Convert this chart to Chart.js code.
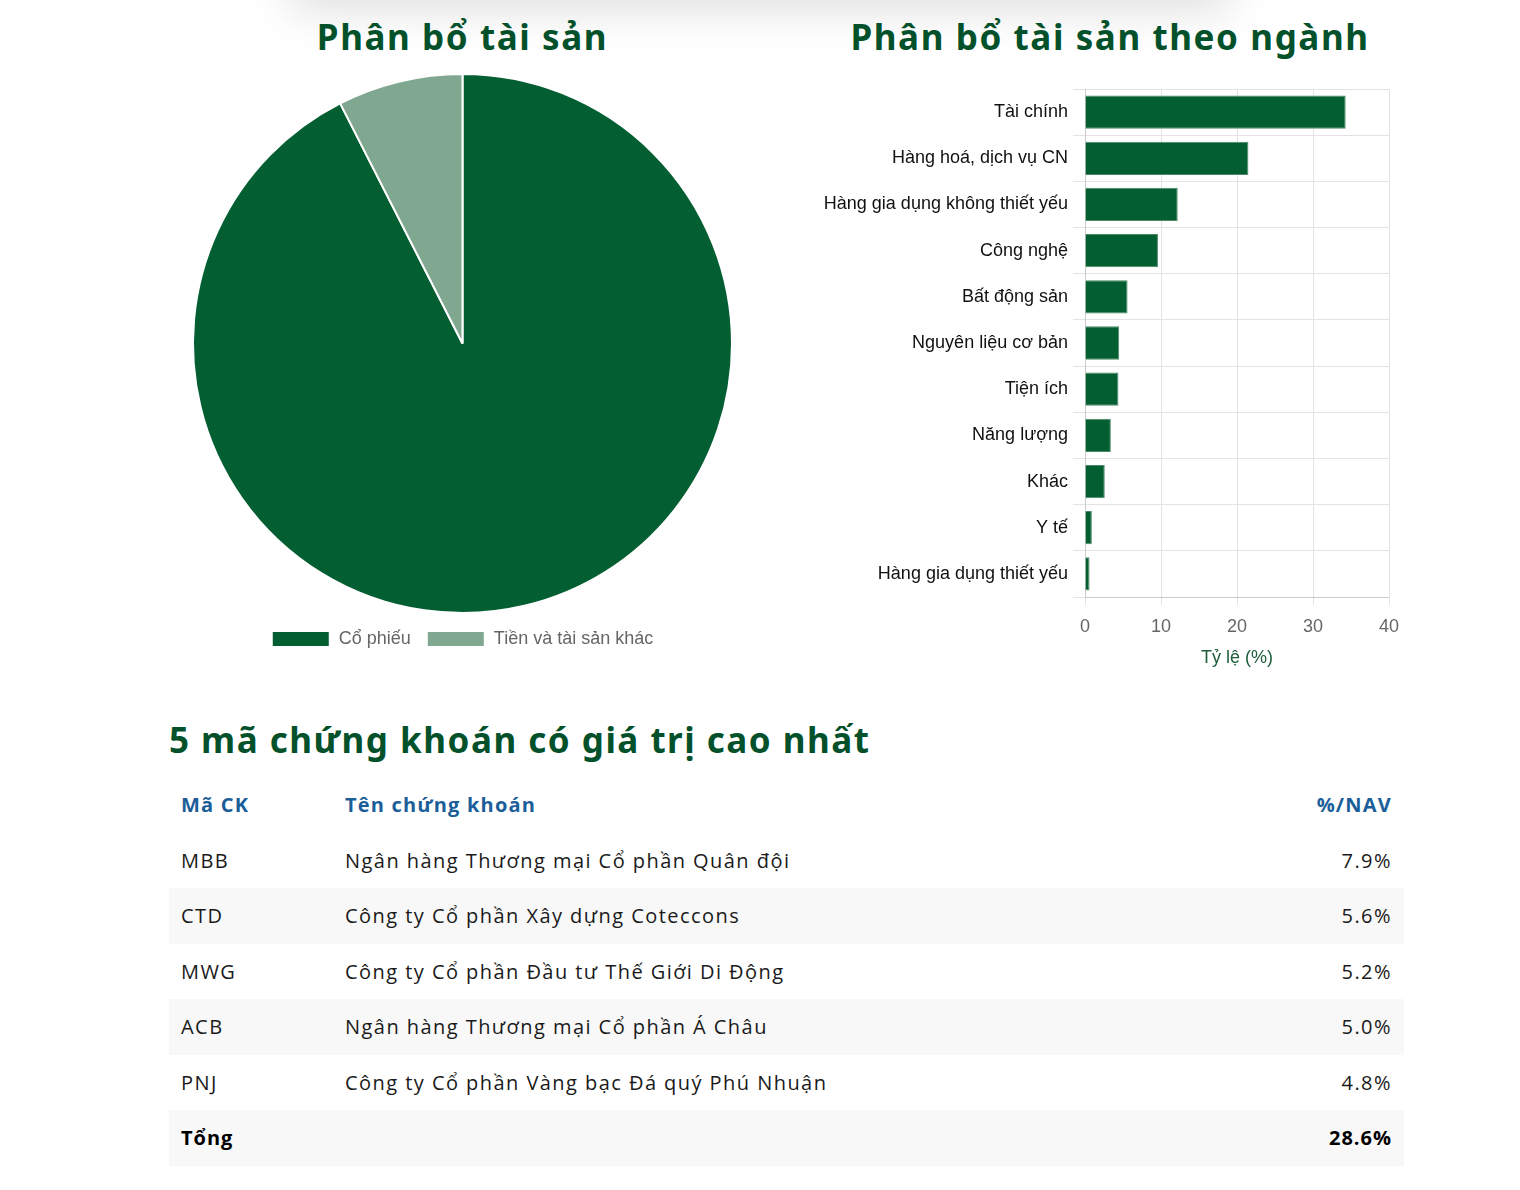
<!DOCTYPE html>
<html lang="vi">
<head>
<meta charset="utf-8">
<title>Phân bổ tài sản</title>
<script src="https://cdn.jsdelivr.net/npm/chart.js@4.4.1/dist/chart.umd.min.js"></script>
<style>
  html, body { margin: 0; padding: 0; background: #fff; }
  body { width: 1520px; height: 1190px; position: relative; overflow: hidden; font-family: "Open Sans", sans-serif; }
  .shade { position: absolute; left: 300px; top: -70px; width: 920px; height: 70px; box-shadow: 0 0 45px 10px rgba(0,0,0,0.13); background: #fff; }
  h2 { margin: 0; position: absolute; font-family: "Noto Sans", sans-serif; font-weight: 700; color: #03512b; font-size: 35px; line-height: 40px; white-space: nowrap; letter-spacing: 1.6px; }
  #t1 { left: 160px; width: 605px; top: 17px; text-align: center; }
  #t2 { left: 800px; width: 620px; top: 17px; text-align: center; }
  #t3 { left: 169px; top: 720px; letter-spacing: 1.5px; }
  .box { position: absolute; }
  #pieBox { left: 160px; top: 63px; width: 605px; height: 603px; }
  #barBox { left: 800px; top: 70px; width: 620px; height: 602px; }
  table { position: absolute; left: 169px; top: 777px; width: 1235px; border-collapse: collapse; font-size: 20px; color: #1a1a1a; letter-spacing: 1.45px; }
  td, th { height: 55.5px; padding: 0 12px; text-align: left; }
  th { color: #1b5e99; font-weight: 700; letter-spacing: 1.2px; }
  tbody tr:nth-child(even) td { background: #f8f8f8; }
  .c1 { width: 140px; }
  .r { text-align: right; }
  tr.sum td { font-weight: 700; color: #000; letter-spacing: 1px; }
</style>
</head>
<body>
<div class="shade"></div>
<h2 id="t1">Phân bổ tài sản</h2>
<h2 id="t2">Phân bổ tài sản theo ngành</h2>
<div class="box" id="pieBox"><canvas id="pieChart"></canvas></div>
<div class="box" id="barBox"><canvas id="barChart"></canvas></div>
<h2 id="t3">5 mã chứng khoán có giá trị cao nhất</h2>
<table id="topTable">
  <thead><tr><th class="c1">Mã CK</th><th>Tên chứng khoán</th><th class="r">%/NAV</th></tr></thead>
  <tbody></tbody>
</table>
<script>
// pie data
const assetLabels = ['Cổ phiếu', 'Tiền và tài sản khác'];
const assetValues = [92.5, 7.5];
const assetColors = ['#035e32', '#80a890'];

// sector data (%)
const sectorLabels = ['Tài chính', 'Hàng hoá, dịch vụ CN', 'Hàng gia dụng không thiết yếu', 'Công nghệ',
  'Bất động sản', 'Nguyên liệu cơ bản', 'Tiện ích', 'Năng lượng', 'Khác', 'Y tế', 'Hàng gia dụng thiết yếu'];
const sectorValues = [34.3, 21.5, 12.2, 9.6, 5.6, 4.5, 4.4, 3.4, 2.6, 0.9, 0.6];

// top 5 holdings
const stockCodes = ['MBB', 'CTD', 'MWG', 'ACB', 'PNJ'];
const stockNames = ['Ngân hàng Thương mại Cổ phần Quân đội', 'Công ty Cổ phần Xây dựng Coteccons',
  'Công ty Cổ phần Đầu tư Thế Giới Di Động', 'Ngân hàng Thương mại Cổ phần Á Châu',
  'Công ty Cổ phần Vàng bạc Đá quý Phú Nhuận'];
const stockNav = [7.9, 5.6, 5.2, 5.0, 4.8];
const totalNav = 28.6;

Chart.defaults.font.family = '"Liberation Sans", Arial, sans-serif';
Chart.defaults.animation = false;

new Chart(document.getElementById('pieChart'), {
  type: 'pie',
  data: {
    labels: assetLabels,
    datasets: [{ data: assetValues, backgroundColor: assetColors, borderColor: '#fff', borderWidth: 2 }]
  },
  options: {
    responsive: true,
    maintainAspectRatio: false,
    layout: { padding: { top: 10, bottom: 8 } },
    plugins: {
      legend: {
        position: 'bottom',
        labels: { boxWidth: 58, boxHeight: 16, color: '#666', font: { size: 18 }, padding: 16 }
      },
      tooltip: { enabled: false }
    }
  }
});

new Chart(document.getElementById('barChart'), {
  type: 'bar',
  data: {
    labels: sectorLabels,
    datasets: [{
      label: 'Tỷ lệ (%)',
      data: sectorValues,
      backgroundColor: '#035e32',
      borderColor: '#4c8a66',
      borderWidth: 1
    }]
  },
  options: {
    indexAxis: 'y',
    responsive: true,
    maintainAspectRatio: false,
    layout: { padding: { top: 19, right: 31 } },
    plugins: { legend: { display: false }, tooltip: { enabled: false } },
    scales: {
      x: {
        min: 0, max: 40,
        ticks: { stepSize: 10, color: '#666', font: { size: 18 }, padding: 11 },
        grid: { color: '#e3e3e3' },
        title: { display: true, text: 'Tỷ lệ (%)', color: '#1f5e3b', font: { size: 18 }, padding: { top: 8, bottom: 3 } },
        afterFit: (scale) => { scale.height = 75; }
      },
      y: {
        ticks: { color: '#111', font: { size: 18 }, padding: 5 },
        grid: { color: '#e3e3e3', tickLength: 12 },
        afterFit: (scale) => { scale.width = 285; }
      }
    }
  }
});

// fill table
const tbody = document.querySelector('#topTable tbody');
stockCodes.forEach((code, i) => {
  const tr = document.createElement('tr');
  tr.innerHTML = '<td class="c1">' + code + '</td><td>' + stockNames[i] + '</td><td class="r">' + stockNav[i].toFixed(1) + '%</td>';
  tbody.appendChild(tr);
});
const sum = document.createElement('tr');
sum.className = 'sum';
sum.innerHTML = '<td class="c1">Tổng</td><td></td><td class="r">' + totalNav.toFixed(1) + '%</td>';
tbody.appendChild(sum);
</script>
</body>
</html>
